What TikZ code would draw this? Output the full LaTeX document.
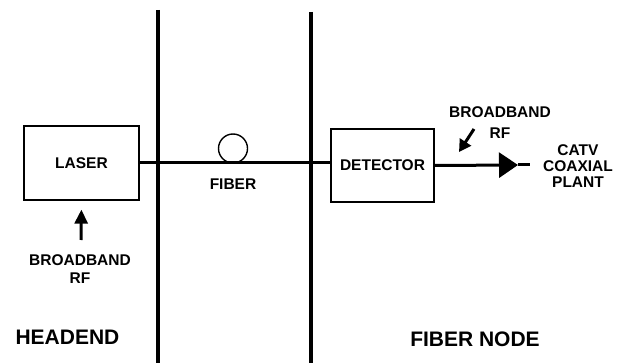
\documentclass[tikz,border=0pt]{standalone}
\usepackage{fontspec}
\setmainfont{Liberation Sans}
\usepackage{xcolor}
\usetikzlibrary{arrows.meta}
\definecolor{FLInk}{HTML}{000000}

\tikzset{
  lbl/.style={font=\fontsize{15.5}{17}\selectfont\bfseries,align=center,inner sep=0pt,text=FLInk},
  sitelbl/.style={font=\fontsize{21}{22}\selectfont\bfseries,inner sep=0pt,text=FLInk},
  unitbox/.style={draw=FLInk,line width=1.3pt,inner sep=0pt,font=\fontsize{15.5}{17}\selectfont\bfseries},
  wall/.style={draw=FLInk,line width=3.6pt},
  fiberline/.style={draw=FLInk,line width=3pt}
}

\begin{document}
\begin{tikzpicture}[x=1pt,y=-1pt]
\path[use as bounding box] (0,0) rectangle (620,363);
% site borders
\coordinate (hetop) at (158,10);
\coordinate (hebot) at (158,363);
\coordinate (fntop) at (311,12);
\coordinate (fnbot) at (311,363);
\draw[wall] (hetop) -- (hebot);
\draw[wall] (fntop) -- (fnbot);
% units
\node[unitbox,minimum width=115pt,minimum height=74pt] (laser) at (81.5,163) {LASER};
\node[unitbox,minimum width=103pt,minimum height=73pt] (detector) at (382.5,165.5) {DETECTOR};
% fiber with loop
\draw[fiberline] (laser.east) -- (laser.east -| detector.west);
\node[draw=FLInk,line width=1.4pt,circle,minimum size=29pt,inner sep=0pt] (loop) at (233,148.5) {};
\node[lbl] (fiberlbl) at (233,184) {FIBER};
% rf input at headend
\node[lbl] (rfin) at (80,269) {BROADBAND\\[1pt]RF};
\coordinate (rfintail) at (81,240);
\draw[FLInk,line width=3pt,-{Triangle[length=14pt,width=13pt]},shorten >=9pt] (rfintail) -- (laser.south);
% rf output at fiber node
\node[lbl] (rfout) at (500,122.5) {BROADBAND\\[4pt]RF};
\coordinate (rfouttail) at (474,129);
\coordinate (rfouthead) at (459,152);
\draw[FLInk,line width=3pt,-{Triangle[length=12pt,width=13pt]}] (rfouttail) -- (rfouthead);
\coordinate (arrowtip) at (518,165);
\coordinate (plant) at (530,165);
\draw[fiberline,-{Triangle[length=19pt,width=25pt]}] (detector.east) -- (arrowtip);
\draw[fiberline] (arrowtip) -- (plant);
\node[lbl,font=\fontsize{15.5}{16}\selectfont\bfseries] (catv) at (578,166.5) {CATV\\COAXIAL\\PLANT};
% site names
\node[sitelbl] (headend) at (67.5,337) {HEADEND};
\node[sitelbl] (fibernode) at (475,339) {FIBER NODE};
\end{tikzpicture}
\end{document}
